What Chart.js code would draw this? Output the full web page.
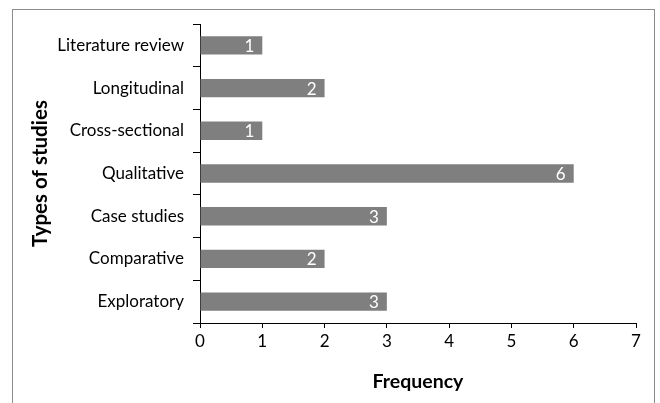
<!DOCTYPE html>
<html>
<head>
<meta charset="utf-8">
<script src="https://cdn.jsdelivr.net/npm/chart.js@4"></script>
<style>
  body { margin: 0; background: #fff; }
  #wrap { position: relative; width: 660px; height: 403px; }
  #frame {
    position: absolute; left: 12px; top: 9px; width: 641px; height: 400px;
    border: 1px solid #8c8c8c; border-bottom: none;
  }
</style>
</head>
<body>
<div id="wrap">
  <div id="frame"></div>
  <canvas id="chart"></canvas>
</div>
<script>
const categories = ["Literature review", "Longitudinal", "Cross-sectional", "Qualitative", "Case studies", "Comparative", "Exploratory"];
const frequencies = [1, 2, 1, 6, 3, 2, 3];
const xTicks = [0, 1, 2, 3, 4, 5, 6, 7];

const FONT = "Lato, 'Open Sans', sans-serif";

// white value labels at the end of each bar
const barLabels = {
  id: "barLabels",
  afterDatasetsDraw(chart) {
    const ctx = chart.ctx;
    const meta = chart.getDatasetMeta(0);
    ctx.save();
    ctx.fillStyle = "#fff";
    ctx.font = "17px " + FONT;
    ctx.textAlign = "right";
    ctx.textBaseline = "middle";
    meta.data.forEach((bar, i) => {
      ctx.fillText(String(frequencies[i]), bar.x - 8, bar.y + 1);
    });
    ctx.restore();
  },
};

new Chart(document.getElementById("chart"), {
  type: "bar",
  data: {
    labels: categories,
    datasets: [
      {
        data: frequencies,
        backgroundColor: "#7f7f7f",
        borderWidth: 0,
        barPercentage: 0.43,
        categoryPercentage: 1,
      },
    ],
  },
  options: {
    indexAxis: "y",
    responsive: true,
    maintainAspectRatio: false,
    animation: false,
    layout: { padding: { left: 12, top: 24, right: 24, bottom: 0 } },
    plugins: {
      legend: { display: false },
      tooltip: { enabled: false },
    },
    scales: {
      x: {
        min: 0,
        max: 7,
        afterBuildTicks: (scale) => {
          scale.ticks = xTicks.map((v) => ({ value: v }));
        },
        afterFit: (scale) => {
          scale.height = 80;
        },
        grid: { drawOnChartArea: false, drawTicks: true, tickLength: 5, color: "#000" },
        border: { color: "#000", width: 1 },
        ticks: { color: "#000", font: { family: FONT, size: 17 }, padding: 3 },
        title: {
          display: true,
          text: "Frequency",
          color: "#000",
          font: { family: FONT, size: 19.5, weight: "bold" },
          padding: { top: 0, bottom: 10 },
        },
      },
      y: {
        afterFit: (scale) => {
          scale.width = 188;
        },
        grid: { drawOnChartArea: false, drawTicks: true, tickLength: 7, color: "#000", offset: true },
        border: { color: "#000", width: 1 },
        ticks: { color: "#000", font: { family: FONT, size: 17 }, padding: 9 },
        title: {
          display: true,
          text: "Types of studies",
          color: "#000",
          font: { family: FONT, size: 20.5, weight: "bold" },
          padding: { top: 16, bottom: 0 },
        },
      },
    },
  },
  plugins: [barLabels],
});
</script>
</body>
</html>
